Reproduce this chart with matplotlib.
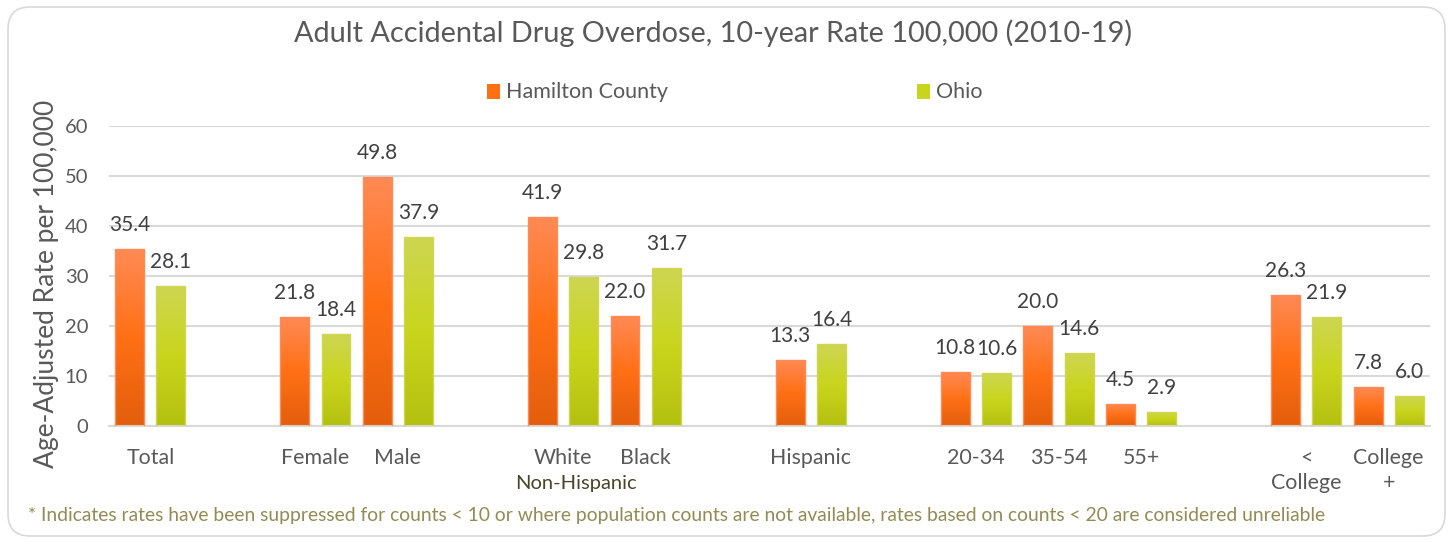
import numpy as np
import matplotlib
matplotlib.use("Agg")
import matplotlib.pyplot as plt
from matplotlib.colors import LinearSegmentedColormap
from matplotlib.patches import FancyBboxPatch, Rectangle

plt.rcParams['font.family'] = ['Lato', 'DejaVu Sans']

# ---- data ----
categories = ["Total", "Female", "Male", "White", "Black", "Hispanic",
              "20-34", "35-54", "55+", "<\nCollege", "College\n+"]
group_sizes = [1, 2, 2, 1, 3, 2]
hamilton = [35.4, 21.8, 49.8, 41.9, 22.0, 13.3, 10.8, 20.0, 4.5, 26.3, 7.8]
ohio = [28.1, 18.4, 37.9, 29.8, 31.7, 16.4, 10.6, 14.6, 2.9, 21.9, 6.0]
series_names = ["Hamilton County", "Ohio"]
title = "Adult Accidental Drug Overdose, 10-year Rate 100,000 (2010-19)"
ylabel = "Age-Adjusted Rate per 100,000"
footnote = ("* Indicates rates have been suppressed for counts < 10 or where population counts "
            "are not available, rates based on counts < 20 are considered unreliable")
yticks = [0, 10, 20, 30, 40, 50, 60]

# positions from group structure (one empty slot between groups)
pos = []
p = 0
for g in group_sizes:
    for _ in range(g):
        pos.append(p)
        p += 1
    p += 1
pos = np.array(pos, dtype=float)

W, H = 1453, 543
fig = plt.figure(figsize=(W / 100, H / 100), dpi=100)

# rounded chart border
border = FancyBboxPatch((0.08, 0.07), W / 100 - 0.16, H / 100 - 0.14,
                        boxstyle="round,pad=0,rounding_size=0.22",
                        transform=fig.dpi_scale_trans, facecolor="white",
                        edgecolor="#D9D9D9", linewidth=1.2, zorder=-5)
fig.patches.append(border)

ax = fig.add_axes([109 / W, 1 - 426 / H, (1430 - 109) / W, 300 / H])
ax.set_facecolor("none")
ax.set_zorder(2)

cmap_or = LinearSegmentedColormap.from_list("or", [(0, "#E35E0C"), (0.5, "#FF7015"), (1, "#FF8A55")])
cmap_gr = LinearSegmentedColormap.from_list("gr", [(0, "#B4C010"), (0.5, "#C9D51C"), (1, "#CED652")])
grad = np.linspace(0, 1, 256).reshape(-1, 1)

bw = 0.35
off = 0.25
for vals, dx, cmap, ec in [(hamilton, -off, cmap_or, "#FF8A55"), (ohio, off, cmap_gr, "#CED652")]:
    for x, v in zip(pos + dx, vals):
        r = Rectangle((x - bw / 2, 0), bw, v, facecolor="none", edgecolor=ec, linewidth=1.0, zorder=3)
        ax.add_patch(r)
        im = ax.imshow(grad, extent=[x - bw / 2, x + bw / 2, 0, v], origin="lower",
                       aspect="auto", cmap=cmap, zorder=2.5)
        im.set_clip_path(r)
        ax.annotate(f"{v:.1f}", (x, v), xytext=(0, 10), textcoords="offset points",
                    ha="center", va="bottom", fontsize=15, color="#404040")

ax.set_xlim(-0.5, pos[-1] + 0.5)
ax.set_ylim(0, 60)
ax.set_yticks(yticks)
ax.yaxis.grid(True, color="#D9D9D9", linewidth=1.5)
ax.set_axisbelow(True)
for s in ["top", "right", "left"]:
    ax.spines[s].set_visible(False)
ax.spines["bottom"].set_color("#D9D9D9")
ax.spines["bottom"].set_linewidth(1.5)
ax.tick_params(axis="y", length=0, labelsize=14.5, labelcolor="#595959", pad=15)
ax.tick_params(axis="x", length=0, labelsize=15.4, labelcolor="#595959", pad=16)
ax.set_xticks(pos)
ax.set_xticklabels(categories, linespacing=1.3)
ax.set_ylabel(ylabel, fontsize=19, color="#595959")
ax.yaxis.set_label_coords(-0.038, 0.473)

fig.text(713 / W, 1 - 33 / H, title, ha="center", va="center", fontsize=20.8, color="#595959")
fig.text(576 / W, 1 - 483 / H, "Non-Hispanic", ha="center", va="center", fontsize=14.5, color="#4A4528")
fig.text(28 / W, 1 - 516 / H, footnote, ha="left", va="center", fontsize=13.88, color="#948A54")

# legend
for xl, name, col in [(487, series_names[0], "#FF7015"), (917, series_names[1], "#C9D51C")]:
    fig.patches.append(Rectangle((xl / W, 1 - 99 / H), 13 / W, 15 / H, transform=fig.transFigure,
                                 facecolor=col, edgecolor="none"))
    fig.text((xl + 19) / W, 1 - 92 / H, name, ha="left", va="center", fontsize=15.5, color="#595959")

fig.savefig("out.png", dpi=100)
